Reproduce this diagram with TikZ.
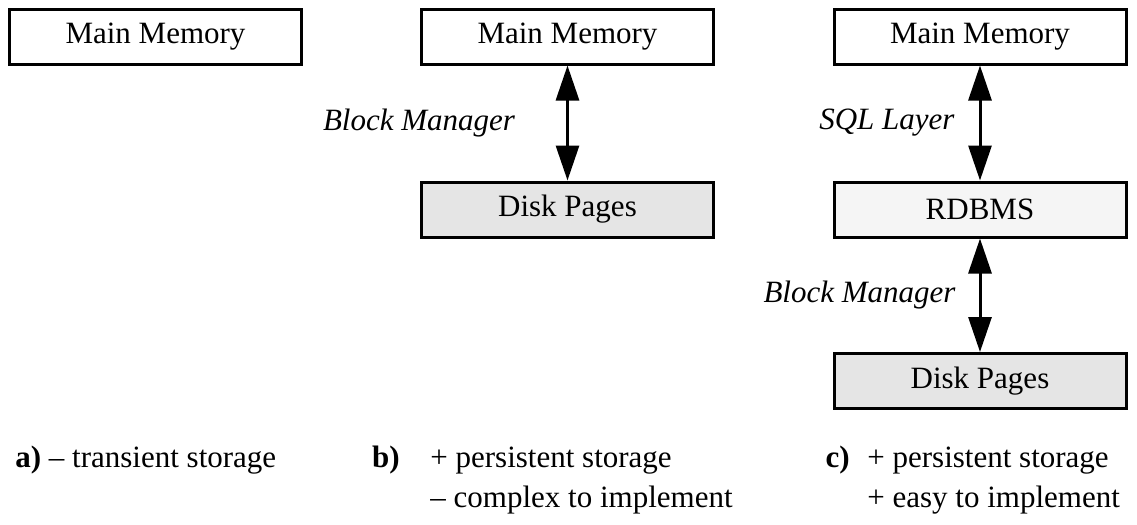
\documentclass[tikz,border=0pt]{standalone}
\usepackage{fontspec}
\setmainfont{Liberation Serif}
\usetikzlibrary{arrows.meta}
\begin{document}
\begin{tikzpicture}[x=0.5pt,y=-0.5pt,
  box/.style={draw=black,line width=1.5pt,minimum width=146pt,minimum height=27.5pt,inner sep=0pt,font=\fontsize{15.5pt}{18pt}\selectfont},
  disk/.style={box,fill=black!10},
  db/.style={box,fill=black!4},
  link/.style={line width=1.5pt,{Triangle[length=17.5pt,width=11.5pt]}-{Triangle[length=17.5pt,width=11.5pt]}},
  lbl/.style={font=\fontsize{15.5pt}{18pt}\selectfont\itshape,inner sep=0pt},
  txt/.style={font=\fontsize{15.5pt}{18pt}\selectfont,inner sep=0pt,anchor=base west},
  tag/.style={font=\fontsize{15.5pt}{18pt}\selectfont\bfseries,inner sep=0pt,anchor=base east}]
\useasboundingbox (0,0) rectangle (1137,525);
% a
\node[box] (ma) at (155.5,36.5) {Main Memory};
% b
\node[box] (mb) at (567.5,36.5) {Main Memory};
\node[disk] (db) at (567.5,209.5) {Disk Pages};
\draw[link] (mb.south) -- (db.north) node[lbl,midway,left=25.5pt] (lb) {Block Manager};
% c
\node[box] (mc) at (980,36.5) {Main Memory};
\node[db] (rc) at (980,209.5) {RDBMS};
\node[disk] (dc) at (980,381) {Disk Pages};
\draw[link] (mc.south) -- (rc.north) node[lbl,midway,left=12pt] (lc1) {SQL Layer};
\draw[link] (rc.south) -- (dc.north) node[lbl,midway,left=11.5pt] (lc2) {Block Manager};
% captions
\node[txt] (ta) at (15,467) {\textbf{a)} – transient storage};
\node[tag] (tb) at (400,467) {b)};
\node[txt] (tb1) at (430,467) {+ persistent storage};
\node[txt] (tb2) at (430,507) {– complex to implement};
\node[tag] (tc) at (850,467) {c)};
\node[txt] (tc1) at (867,467) {+ persistent storage};
\node[txt] (tc2) at (867,507) {+ easy to implement};
\end{tikzpicture}
\end{document}
